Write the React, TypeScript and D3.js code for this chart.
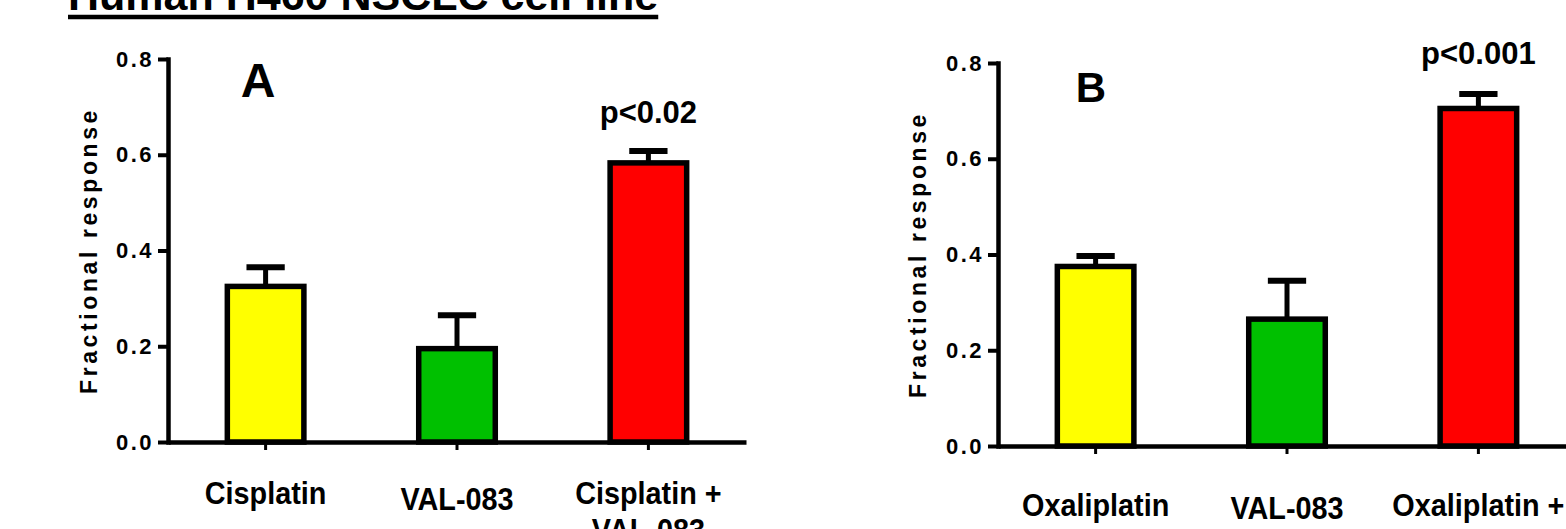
import { useEffect, useRef } from 'react';
import * as d3 from 'd3';

const W = 1566;
const H = 529;
const FONT = '"Liberation Sans", Arial, Helvetica, sans-serif';

const title = 'Human H460 NSCLC cell line';
const yLabel = 'Fractional response';
const yTicks = [0, 0.2, 0.4, 0.6, 0.8];
const barColors = ['#ffff00', '#00c000', '#ff0000'];

const cisCategories = ['Cisplatin', 'VAL-083', 'Cisplatin +\nVAL-083'];
const cisMeans = [0.325, 0.195, 0.583];
const cisErrors = [0.04, 0.07, 0.025];

const oxaCategories = ['Oxaliplatin', 'VAL-083', 'Oxaliplatin +\nVAL-083'];
const oxaMeans = [0.375, 0.265, 0.705];
const oxaErrors = [0.022, 0.08, 0.03];

const panelLetters = ['A', 'B'];
const pValues = ['p<0.02', 'p<0.001'];

function drawPanel(svg, cfg) {
  const { cats, means, errs, left, right, top, bottom } = cfg;

  const x = d3.scaleBand()
    .domain(cats)
    .range([left, right])
    .paddingInner(0.6)
    .paddingOuter(0.31);

  const y = d3.scaleLinear()
    .domain([0, 0.8])
    .range([bottom, top]);

  const g = svg.append('g');
  const data = cats.map((c, i) => ({ cat: c, mean: means[i], err: errs[i], color: barColors[i] }));
  const cx = d => x(d.cat) + x.bandwidth() / 2;

  // error bars (upper only)
  g.selectAll('line.stem')
    .data(data)
    .join('line')
    .attr('x1', cx)
    .attr('x2', cx)
    .attr('y1', d => y(d.mean))
    .attr('y2', d => y(d.mean + d.err))
    .attr('stroke', '#000')
    .attr('stroke-width', 5);

  g.selectAll('line.cap')
    .data(data)
    .join('line')
    .attr('x1', d => cx(d) - x.bandwidth() / 4)
    .attr('x2', d => cx(d) + x.bandwidth() / 4)
    .attr('y1', d => y(d.mean + d.err))
    .attr('y2', d => y(d.mean + d.err))
    .attr('stroke', '#000')
    .attr('stroke-width', 6);

  g.selectAll('rect.bar')
    .data(data)
    .join('rect')
    .attr('x', d => x(d.cat))
    .attr('y', d => y(d.mean))
    .attr('width', x.bandwidth())
    .attr('height', d => y(0) - y(d.mean))
    .attr('fill', d => d.color)
    .attr('stroke', '#000')
    .attr('stroke-width', 5.5);

  // y axis
  const ya = g.append('g')
    .attr('transform', `translate(${left},0)`)
    .call(d3.axisLeft(y).tickValues(yTicks).tickFormat(d3.format('.1f')).tickSize(10).tickSizeOuter(0).tickPadding(4));
  ya.select('.domain').attr('stroke-width', 4.5).attr('stroke-linecap', 'square');
  ya.selectAll('.tick line').attr('stroke-width', 4);
  ya.selectAll('.tick text')
    .attr('font-family', FONT)
    .attr('font-size', 22)
    .attr('font-weight', 'bold')
    .attr('letter-spacing', 2.5)
    .attr('fill', '#000');

  // x axis
  const xa = g.append('g')
    .attr('transform', `translate(0,${bottom})`)
    .call(d3.axisBottom(x).tickSize(8).tickSizeOuter(0).tickFormat(() => ''));
  xa.select('.domain').attr('stroke-width', 4.5);
  xa.selectAll('.tick line').attr('stroke-width', 3);

  // category labels (slightly condensed, like the original)
  cats.forEach((c, i) => {
    const px = x(c) + x.bandwidth() / 2;
    const t = g.append('text')
      .attr('transform', `translate(${px},${bottom + cfg.labelOffset + cfg.labelShift[i]}) scale(0.9,1)`)
      .attr('text-anchor', 'middle')
      .attr('font-family', FONT)
      .attr('font-size', 32)
      .attr('font-weight', 'bold')
      .attr('fill', '#000');
    c.split('\n').forEach((line, k) => {
      t.append('tspan')
        .attr('x', 0)
        .attr('dy', k === 0 ? 0 : 37)
        .text(line);
    });
  });

  // y axis title
  g.append('text')
    .attr('transform', `translate(${cfg.yLabelX},${(top + bottom) / 2}) rotate(-90)`)
    .attr('text-anchor', 'middle')
    .attr('dominant-baseline', 'central')
    .attr('font-family', FONT)
    .attr('font-size', 23)
    .attr('font-weight', 'bold')
    .attr('letter-spacing', 3.6)
    .attr('fill', '#000')
    .text(yLabel);

  // panel letter
  g.append('text')
    .attr('x', cfg.letterX)
    .attr('y', cfg.letterY)
    .attr('text-anchor', 'middle')
    .attr('font-family', FONT)
    .attr('font-size', cfg.letterSize)
    .attr('font-weight', 'bold')
    .attr('fill', '#000')
    .text(cfg.letter);

  // significance
  const last = cats[cats.length - 1];
  g.append('text')
    .attr('x', x(last) + x.bandwidth() / 2)
    .attr('y', cfg.pY)
    .attr('text-anchor', 'middle')
    .attr('font-family', FONT)
    .attr('font-size', 31)
    .attr('font-weight', 'bold')
    .attr('fill', '#000')
    .text(cfg.p);
}

export default function App() {
  const svgRef = useRef(null);

  useEffect(() => {
    const svg = d3.select(svgRef.current);
    svg.selectAll('*').remove();

    svg.append('rect').attr('width', W).attr('height', H).attr('fill', '#fff');

    const t = svg.append('text')
      .attr('x', 68)
      .attr('y', 10)
      .attr('font-family', FONT)
      .attr('font-size', 43)
      .attr('font-weight', 'bold')
      .attr('fill', '#000')
      .text(title);
    const len = t.node().getComputedTextLength();
    svg.append('line')
      .attr('x1', 68)
      .attr('x2', 68 + len)
      .attr('y1', 17)
      .attr('y2', 17)
      .attr('stroke', '#000')
      .attr('stroke-width', 4.5);

    drawPanel(svg, {
      cats: cisCategories, means: cisMeans, errs: cisErrors,
      left: 168, right: 746, top: 59, bottom: 442,
      yLabelX: 89, labelOffset: 62, labelShift: [0, 6, 0],
      letter: panelLetters[0], letterX: 258, letterY: 97, letterSize: 48,
      p: pValues[0], pY: 123,
    });

    drawPanel(svg, {
      cats: oxaCategories, means: oxaMeans, errs: oxaErrors,
      left: 998, right: 1576, top: 63, bottom: 446,
      yLabelX: 918, labelOffset: 70, labelShift: [0, 3, 0],
      letter: panelLetters[1], letterX: 1091, letterY: 102, letterSize: 42,
      p: pValues[1], pY: 64,
    });
  }, []);

  return (
    <svg
      ref={svgRef}
      width={W}
      height={H}
      style={{ position: 'absolute', left: 0, top: 0, display: 'block' }}
    />
  );
}
